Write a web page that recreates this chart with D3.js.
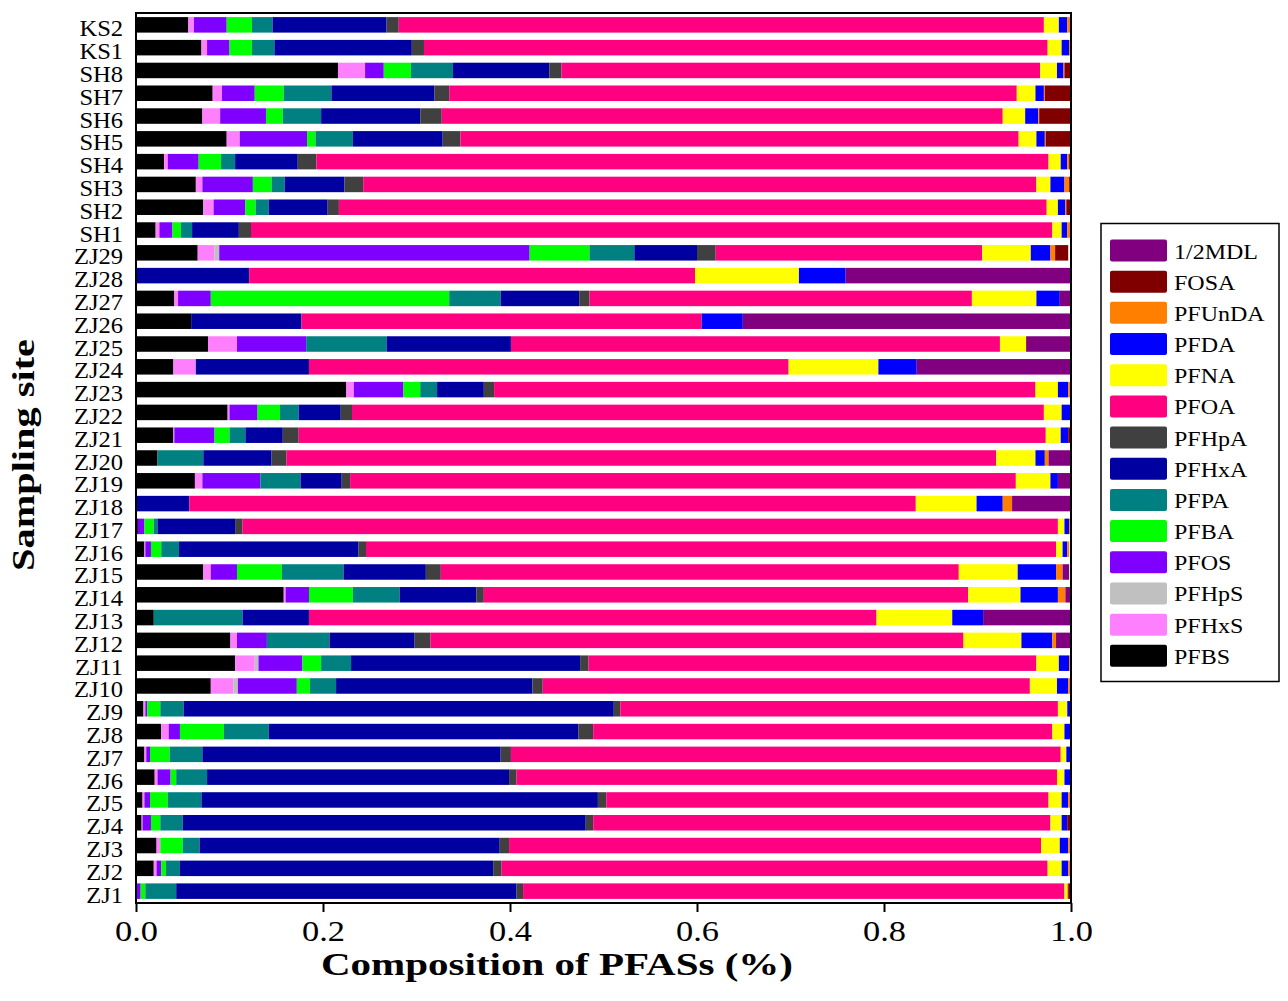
<!DOCTYPE html>
<html>
<head>
<meta charset="utf-8">
<script src="https://cdn.jsdelivr.net/npm/d3@7"></script>
<style>
  body { margin: 0; background: #fff; }
  text { font-family: "Liberation Serif", "Times New Roman", serif; }
</style>
</head>
<body>
<div id="chart"></div>
<script>
// sites, top to bottom
const sites = ["KS2","KS1","SH8","SH7","SH6","SH5","SH4","SH3","SH2","SH1",
  "ZJ29","ZJ28","ZJ27","ZJ26","ZJ25","ZJ24","ZJ23","ZJ22","ZJ21","ZJ20",
  "ZJ19","ZJ18","ZJ17","ZJ16","ZJ15","ZJ14","ZJ13","ZJ12","ZJ11","ZJ10",
  "ZJ9","ZJ8","ZJ7","ZJ6","ZJ5","ZJ4","ZJ3","ZJ2","ZJ1"];

const compounds = ["PFBS","PFHxS","PFHpS","PFOS","PFBA","PFPA","PFHxA","PFHpA",
  "PFOA","PFNA","PFDA","PFUnDA","FOSA","1/2MDL"];
const colors = ["#000000","#ff80ff","#c0c0c0","#8000ff","#00ff00","#008080","#0000a0","#404040",
  "#ff0080","#ffff00","#0000ff","#ff8000","#800000","#800080"];

// fractions per site, same order as sites
const PFBS  = [.056,.070,.216,.082,.071,.097,.030,.064,.072,.021,.066,0,.041,.059,.077,.040,.225,.098,.040,.023,
  .063,0,.002,.009,.072,.158,.019,.101,.106,.080,.008,.027,.009,.020,.007,.006,.022,.019,0];
const PFHxS = [.006,.006,.029,.010,.019,.014,.004,.007,.011,.004,.018,0,.004,0,.031,.024,.008,.002,.001,0,
  .008,0,0,.001,.008,.002,0,.007,.021,.024,.002,.008,.002,.003,.002,.001,.004,.003,0];
const PFHpS = [0,0,0,0,0,0,0,0,0,0,.005,0,0,0,0,0,0,0,0,0,
  0,0,0,0,0,0,0,0,.004,.005,0,0,0,0,0,0,0,0,0];
const PFOS  = [.035,.024,.020,.035,.049,.072,.033,.054,.034,.014,.332,0,.035,0,.074,0,.053,.030,.043,0,
  .062,0,.007,.006,.028,.025,0,.032,.047,.063,.002,.012,.004,.014,.006,.009,0,.005,.005];
const PFBA  = [.027,.024,.029,.031,.018,.009,.024,.020,.011,.009,.064,0,.255,0,0,0,.018,.024,.016,0,
  0,0,.010,.011,.048,.047,0,0,.020,.014,.014,.047,.021,.006,.019,.010,.024,.005,.005];
const PFPA  = [.022,.024,.045,.051,.041,.040,.015,.014,.014,.012,.048,0,.055,0,.086,0,.018,.020,.017,.049,
  .043,0,.004,.019,.066,.050,.095,.067,.032,.028,.025,.048,.035,.033,.036,.024,.018,.015,.033];
const PFHxA = [.122,.147,.103,.110,.106,.096,.067,.064,.063,.050,.067,.121,.084,.118,.133,.121,.050,.045,.040,.073,
  .044,.057,.083,.192,.088,.082,.071,.091,.245,.210,.460,.331,.319,.323,.424,.431,.321,.335,.364];
const PFHpA = [.013,.013,.013,.016,.023,.019,.020,.020,.012,.013,.020,0,.011,0,0,0,.011,.012,.017,.016,
  .009,0,.008,.008,.016,.008,0,.017,.009,.011,.007,.016,.011,.008,.009,.008,.010,.009,.007];
const PFOA  = [.690,.667,.512,.607,.600,.597,.783,.720,.757,.857,.285,.477,.409,.428,.523,.513,.579,.740,.799,.759,
  .712,.777,.872,.738,.554,.518,.607,.570,.479,.521,.468,.491,.588,.578,.473,.489,.569,.584,.579];
const PFNA  = [.016,.015,.018,.020,.024,.019,.013,.015,.012,.010,.052,.111,.069,0,.028,.096,.024,.019,.016,.042,
  .037,.065,.007,.007,.063,.056,.081,.062,.024,.029,.010,.013,.006,.008,.014,.012,.020,.015,.003];
const PFDA  = [.009,.008,.007,.009,.014,.009,.007,.015,.008,.006,.021,.050,.025,.044,0,.041,.011,.010,.008,.010,
  .008,.028,.005,.005,.041,.040,.033,.033,.011,.012,.003,.006,.004,.006,.007,.006,.009,.007,0];
const PFUnDA = [.003,.002,.001,.001,.001,.001,.002,.005,.001,.003,.005,0,0,0,0,0,.002,0,0,.004,
  0,.010,.002,.002,.007,.008,0,.004,.001,.002,0,0,0,0,.002,0,.002,.002,.001];
const FOSA  = [.001,0,.006,.028,.034,.026,.002,.001,.004,.001,.014,0,0,0,0,0,0,0,.002,0,
  0,0,0,0,0,0,0,0,0,0,0,0,0,0,0,.003,0,0,.002];
const MDL   = [0,0,0,0,0,0,0,0,0,0,0,.241,.011,.351,.048,.165,0,0,0,.024,
  .013,.062,0,0,.007,.006,.093,.015,0,0,0,0,0,0,0,0,0,0,0];

const xTicks = [0, 0.2, 0.4, 0.6, 0.8, 1.0];

const seriesValues = [PFBS, PFHxS, PFHpS, PFOS, PFBA, PFPA, PFHxA, PFHpA, PFOA, PFNA, PFDA, PFUnDA, FOSA, MDL];

const rows = sites.map((s, i) => {
  const r = { site: s };
  compounds.forEach((k, j) => r[k] = seriesValues[j][i]);
  return r;
});

const width = 1288, height = 1001;
const plotL = 136, plotR = 1071, plotT = 13, plotB = 903;

const svg = d3.select("#chart").append("svg")
  .attr("width", width)
  .attr("height", height)
  .attr("viewBox", [0, 0, width, height]);

const x = d3.scaleLinear().domain([0, 1]).range([plotL, plotR]).clamp(true);
const y = d3.scaleBand().domain(sites).range([plotT, plotB])
  .paddingInner(0.32).paddingOuter(0.18);
const color = d3.scaleOrdinal().domain(compounds).range(colors);

const stacked = d3.stack().keys(compounds)(rows);

// bars
svg.append("g")
  .selectAll("g")
  .data(stacked)
  .join("g")
  .attr("fill", d => color(d.key))
  .selectAll("rect")
  .data(d => d)
  .join("rect")
  .attr("x", d => x(d[0]))
  .attr("y", d => y(d.data.site))
  .attr("width", d => Math.max(0, x(d[1]) - x(d[0])))
  .attr("height", y.bandwidth());

// frame
svg.append("rect")
  .attr("x", plotL).attr("y", plotT)
  .attr("width", plotR - plotL).attr("height", plotB - plotT)
  .attr("fill", "none").attr("stroke", "#000").attr("stroke-width", 2);

// x axis
const gx = svg.append("g")
  .attr("transform", `translate(0,${plotB})`)
  .call(d3.axisBottom(x).tickValues(xTicks).tickSize(9).tickPadding(8).tickFormat(d3.format(".1f")));
gx.select(".domain").remove();
gx.selectAll(".tick line").attr("stroke-width", 2);
gx.selectAll(".tick text")
  .attr("font-size", 30)
  .attr("font-family", "Liberation Serif")
  .attr("fill", "#000")
  .attr("textLength", 43)
  .attr("lengthAdjust", "spacingAndGlyphs");

// y axis labels
const gy = svg.append("g")
  .attr("transform", `translate(${plotL},0)`)
  .call(d3.axisLeft(y).tickSize(0).tickPadding(12));
gy.select(".domain").remove();
gy.selectAll(".tick text")
  .attr("font-size", 23)
  .attr("font-family", "Liberation Serif")
  .attr("fill", "#000")
  .attr("dy", "0.5em")
  .attr("transform", "scale(1.07,1)");

// axis titles
svg.append("text")
  .attr("x", 557).attr("y", 975)
  .attr("text-anchor", "middle")
  .attr("font-size", 31).attr("font-weight", "bold")
  .attr("textLength", 472).attr("lengthAdjust", "spacingAndGlyphs")
  .text("Composition of PFASs (%)");

svg.append("text")
  .attr("transform", "translate(34,455) rotate(-90)")
  .attr("text-anchor", "middle")
  .attr("font-size", 31).attr("font-weight", "bold")
  .attr("textLength", 232).attr("lengthAdjust", "spacingAndGlyphs")
  .text("Sampling site");

// legend
const legendKeys = compounds.slice().reverse();
const lg = svg.append("g").attr("transform", "translate(1101,223.5)");
lg.append("rect")
  .attr("width", 178).attr("height", 458)
  .attr("fill", "#fff").attr("stroke", "#000").attr("stroke-width", 1.5);
const item = lg.selectAll("g.item")
  .data(legendKeys)
  .join("g")
  .attr("class", "item")
  .attr("transform", (d, i) => `translate(9,${16 + i * 31.18})`);
item.append("rect")
  .attr("width", 57).attr("height", 22).attr("rx", 2)
  .attr("fill", d => color(d));
item.append("text")
  .attr("transform", "translate(64,19) scale(1.2,1)")
  .attr("font-size", 20)
  .attr("fill", "#000")
  .text(d => d);
</script>
</body>
</html>
